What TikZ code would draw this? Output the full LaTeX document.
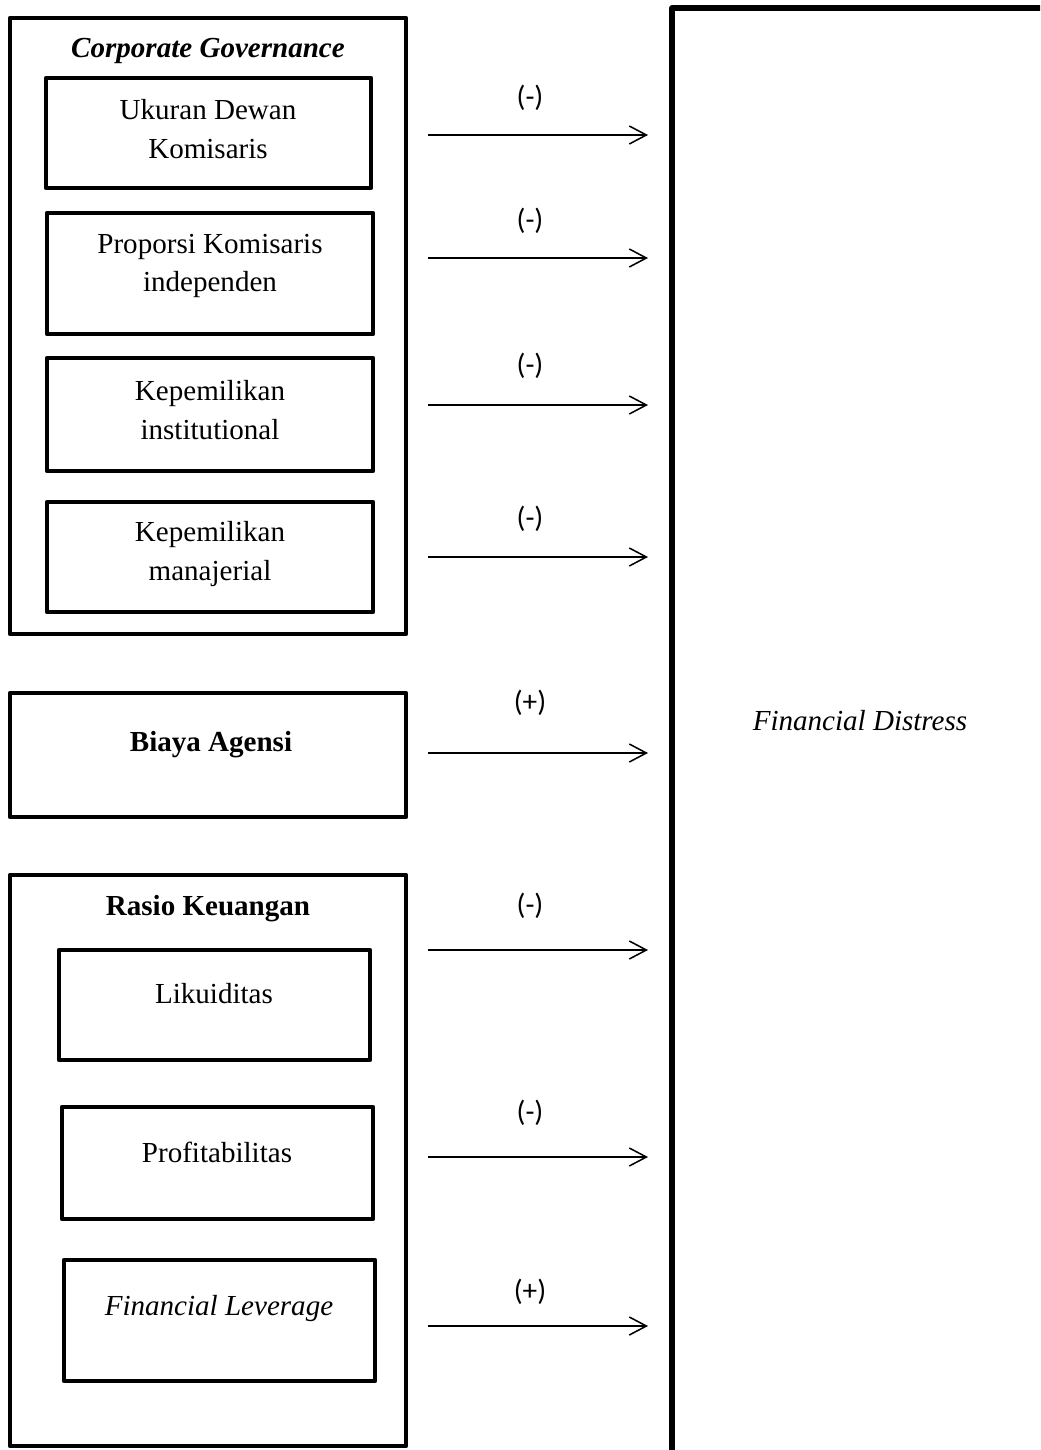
\documentclass[tikz,border=0pt]{standalone}
\usepackage{fontspec}
\setmainfont{Liberation Serif}
\newfontfamily\signfont{Carlito}
\usetikzlibrary{arrows.meta,positioning,calc,fit}
\newcommand\boxfont{\fontsize{12.4}{16.4}\selectfont}
\tikzset{
  box/.style={draw, line width=2pt, inner sep=0pt},
  bigbox/.style={draw, line width=2.2pt, inner sep=0pt},
  txt/.style={align=center, font=\boxfont},
  title/.style={align=center, font=\boxfont\bfseries},
  link/.style={line width=0.65pt, -{Straight Barb[length=7.3pt,width=7.7pt,line width=0.65pt]}},
  sign/.style={font=\signfont\fontsize{12.5}{14}\selectfont}
}

\begin{document}
\begin{tikzpicture}[line join=round, x=0.015cm, y=-0.015cm]
\useasboundingbox (0,0) rectangle (1040,1450);
\clip (0,0) rectangle (1040,1450);
% corporate governance
\node[box, fit={(10,18) (406,634)}] (cg) {};
\node[title] (cgtitle) at (208,51) {\itshape Corporate Governance};
\node[box, fit={(46,78) (371,188)}]  (ukuran) {};
\node[txt] (ukurantxt) at (208,129) {Ukuran Dewan\\Komisaris};
\node[box, fit={(47,213) (373,334)}] (proporsi) {};
\node[txt] (proporsitxt) at (210,266) {Proporsi Komisaris\\independen};
\node[box, fit={(47,358) (373,471)}] (instit) {};
\node[txt] (instittxt) at (210,410) {Kepemilikan\\institutional};
\node[box, fit={(47,502) (373,612)}] (manaj) {};
\node[txt] (manajtxt) at (210,554) {Kepemilikan\\manajerial};
% biaya agensi
\node[box, fit={(10,693) (406,817)}] (biaya) {};
\node[title] (biayatxt) at (211,745) {Biaya Agensi};
% rasio keuangan
\node[box, fit={(10,875) (406,1446)}] (rasio) {};
\node[title] (rasiotitle) at (208,909) {Rasio Keuangan};
\node[box, fit={(59,950) (370,1060)}]   (likuid) {};
\node[txt] (likuidtxt) at (214,994) {Likuiditas};
\node[box, fit={(62,1107) (373,1219)}]  (profit) {};
\node[txt] (profittxt) at (217,1152) {Profitabilitas};
\node[box, fit={(64,1260) (375,1381)}]  (lever) {};
\node[txt] (levertxt) at (219,1308) {\itshape Financial Leverage};
% financial distress
\node[bigbox, fit={(672,8) (1060,1475)}] (fd) {};
\node[txt] (fdtxt) at (860,721) {\itshape Financial Distress};
% arrows
\foreach \n/\y/\ly/\s in {1/135/98/(-), 2/258/221/(-), 3/405/366/(-), 4/557/519/(-),
                          5/753/703/(+), 6/950/906/(-), 7/1157/1113/(-), 8/1326/1292/(+)}
{
  \coordinate (s\n) at (428,\y);
  \coordinate (e\n) at (648,\y);
  \draw[link] (s\n) -- (e\n);
  \node[sign] (sg\n) at (530,\ly) {\s};
}
\end{tikzpicture}
\end{document}
